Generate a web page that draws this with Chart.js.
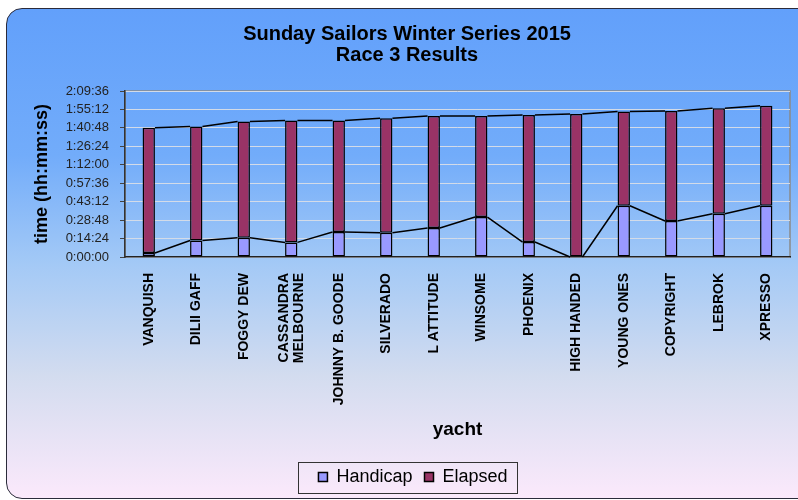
<!DOCTYPE html>
<html>
<head>
<meta charset="utf-8">
<script src="https://cdn.jsdelivr.net/npm/chart.js@4"></script>
<style>
html, body { margin: 0; padding: 0; background: #fff; overflow: hidden; }
#wrap { position: relative; width: 798px; height: 500px; overflow: hidden; }
#frame {
  position: absolute; left: 6px; top: 8px; width: 830px; height: 489px;
  border: 1.5px solid #2b2b3a; border-radius: 16px;
  background: linear-gradient(to bottom, #62a0fb 0%, #72acfa 30%, #a3c9f6 52%, #d3dcef 75%, #fbe9fb 100%);
}
canvas { position: absolute; left: 0; top: 0; }
</style>
</head>
<body>
<div id="wrap">
  <div id="frame"></div>
  <canvas id="myChart" width="798" height="500"></canvas>
</div>
<script>
// datos (h:mm:ss)
const yates = ['VANQUISH', 'DILII GAFF', 'FOGGY DEW', ['CASSANDRA', 'MELBOURNE'], 'JOHNNY B. GOODE',
  'SILVERADO', 'L ATTITUDE', 'WINSOME', 'PHOENIX', 'HIGH HANDED', 'YOUNG ONES', 'COPYRIGHT', 'LEBROK', 'XPRESSO']
const handicap = ['0:03:06', '0:12:54', '0:15:00', '0:11:24', '0:19:30', '0:18:54', '0:22:36',
  '0:31:12', '0:11:42', '0:00:00', '0:40:00', '0:28:06', '0:33:42', '0:40:00']
const elapsed = ['1:37:54', '1:28:54', '1:30:42', '1:35:06', '1:27:00', '1:29:24', '1:27:30',
  '1:18:54', '1:39:12', '1:51:42', '1:13:30', '1:25:54', '1:22:24', '1:18:06']
const ejeMax = '2:09:36'
const ejePaso = '0:14:24'

const fuente = "'Liberation Sans', Arial, sans-serif"

function segundos(t) {
  const p = t.split(':').map(Number)
  return p[0] * 3600 + p[1] * 60 + p[2]
}
function hms(s) {
  const h = Math.floor(s / 3600)
  const m = Math.floor((s % 3600) / 60)
  const ss = Math.round(s % 60)
  return h + ':' + String(m).padStart(2, '0') + ':' + String(ss).padStart(2, '0')
}

// lineas de serie entre barras (como en excel)
const lineasSerie = {
  id: 'lineasSerie',
  afterDatasetsDraw(chart) {
    const ctx = chart.ctx
    ctx.save()
    ctx.strokeStyle = '#000'
    ctx.lineWidth = 1.5
    chart.data.datasets.forEach((ds, i) => {
      const barras = chart.getDatasetMeta(i).data
      ctx.beginPath()
      for (let j = 0; j < barras.length - 1; j++) {
        const a = barras[j], b = barras[j + 1]
        ctx.moveTo(a.x + a.width / 2, a.y)
        ctx.lineTo(b.x - b.width / 2, b.y)
      }
      ctx.stroke()
    })
    ctx.restore()
  }
}

// borde gris del area de trazado + centrar etiquetas de dos lineas
const bordeArea = {
  id: 'bordeArea',
  beforeDraw(chart) {
    const a = chart.chartArea
    const ctx = chart.ctx
    ctx.save()
    ctx.strokeStyle = '#8a8a8a'
    ctx.lineWidth = 1.5
    ctx.strokeRect(a.left, a.top, a.right - a.left, a.bottom - a.top)
    ctx.restore()

    const items = chart.scales.x.getLabelItems()
    items.forEach(it => {
      if (Array.isArray(it.label) && !it._centrado) {
        it.textOffset -= (it.label.length - 1) * it.font.lineHeight / 2
        it._centrado = true
      }
    })
  }
}

// mueve la leyenda y le pone un marco
const marcoLeyenda = {
  id: 'marcoLeyenda',
  afterLayout(chart) {
    chart.legend.left += 6
    chart.legend.right += 6
  },
  afterDraw(chart) {
    const hb = chart.legend.legendHitBoxes
    if (!hb || !hb.length) return
    const ult = hb[hb.length - 1]
    const x1 = hb[0].left - 20
    const x2 = ult.left + ult.width + 10
    const cy = hb[0].top + hb[0].height / 2
    const ctx = chart.ctx
    ctx.save()
    ctx.strokeStyle = '#333'
    ctx.lineWidth = 1
    ctx.strokeRect(Math.round(x1) + 0.5, Math.round(cy - 15.5) + 0.5, Math.round(x2 - x1), 31)
    ctx.restore()
  }
}

function grafico_regata() {
  const ctx = document.getElementById('myChart')

  new Chart(ctx, {
    type: 'bar',
    data: {
      labels: yates,
      datasets: [{
        label: 'Handicap',
        data: handicap.map(segundos),
        backgroundColor: '#9999ff',
        borderColor: '#000',
        borderWidth: 1.5,
        borderSkipped: false,
        barPercentage: 0.26,
        categoryPercentage: 1
      }, {
        label: 'Elapsed',
        data: elapsed.map(segundos),
        backgroundColor: '#993366',
        borderColor: '#000',
        borderWidth: 1.5,
        borderSkipped: false,
        barPercentage: 0.26,
        categoryPercentage: 1
      }]
    },
    options: {
      responsive: false,
      animation: false,
      layout: { padding: { top: 13, left: 24, right: 8, bottom: 4 } },
      plugins: {
        title: {
          display: true,
          text: ['Sunday Sailors Winter Series 2015', 'Race 3 Results'],
          color: '#000',
          font: { family: fuente, size: 20, weight: 'bold', lineHeight: 1.05 },
          padding: { top: 10.5, bottom: 25.5 }
        },
        legend: {
          position: 'bottom',
          labels: {
            boxWidth: 9,
            boxHeight: 9,
            padding: 12,
            color: '#000',
            font: { family: fuente, size: 18 }
          }
        },
        tooltip: { enabled: false }
      },
      scales: {
        x: {
          stacked: true,
          grid: { display: false, drawTicks: false },
          border: { color: '#222', width: 1.5 },
          ticks: {
            autoSkip: false,
            minRotation: 90,
            maxRotation: 90,
            padding: 16,
            color: '#000',
            font: { family: fuente, size: 14, weight: 'bold', lineHeight: 1.08 }
          },
          title: {
            display: true,
            text: 'yacht',
            color: '#000',
            font: { family: fuente, size: 19, weight: 'bold' },
            padding: { top: 4, bottom: 14.6 }
          },
          afterFit(s) { s.height = 199 }
        },
        y: {
          stacked: true,
          min: 0,
          max: segundos(ejeMax),
          grid: { color: '#d3dbe8', lineWidth: 1, tickColor: '#444', tickLength: 5 },
          border: { color: '#333', width: 1.5 },
          ticks: {
            autoSkip: false,
            stepSize: segundos(ejePaso),
            padding: 11,
            color: '#222',
            font: { family: fuente, size: 13 },
            callback: v => hms(v)
          },
          title: {
            display: true,
            text: 'time (hh:mm:ss)',
            color: '#000',
            font: { family: fuente, size: 18, weight: 'bold' },
            padding: { top: 7, bottom: 0 }
          },
          afterFit(s) { s.width = 101 }
        }
      }
    },
    plugins: [bordeArea, lineasSerie, marcoLeyenda]
  })
}

grafico_regata()
</script>
</body>
</html>
